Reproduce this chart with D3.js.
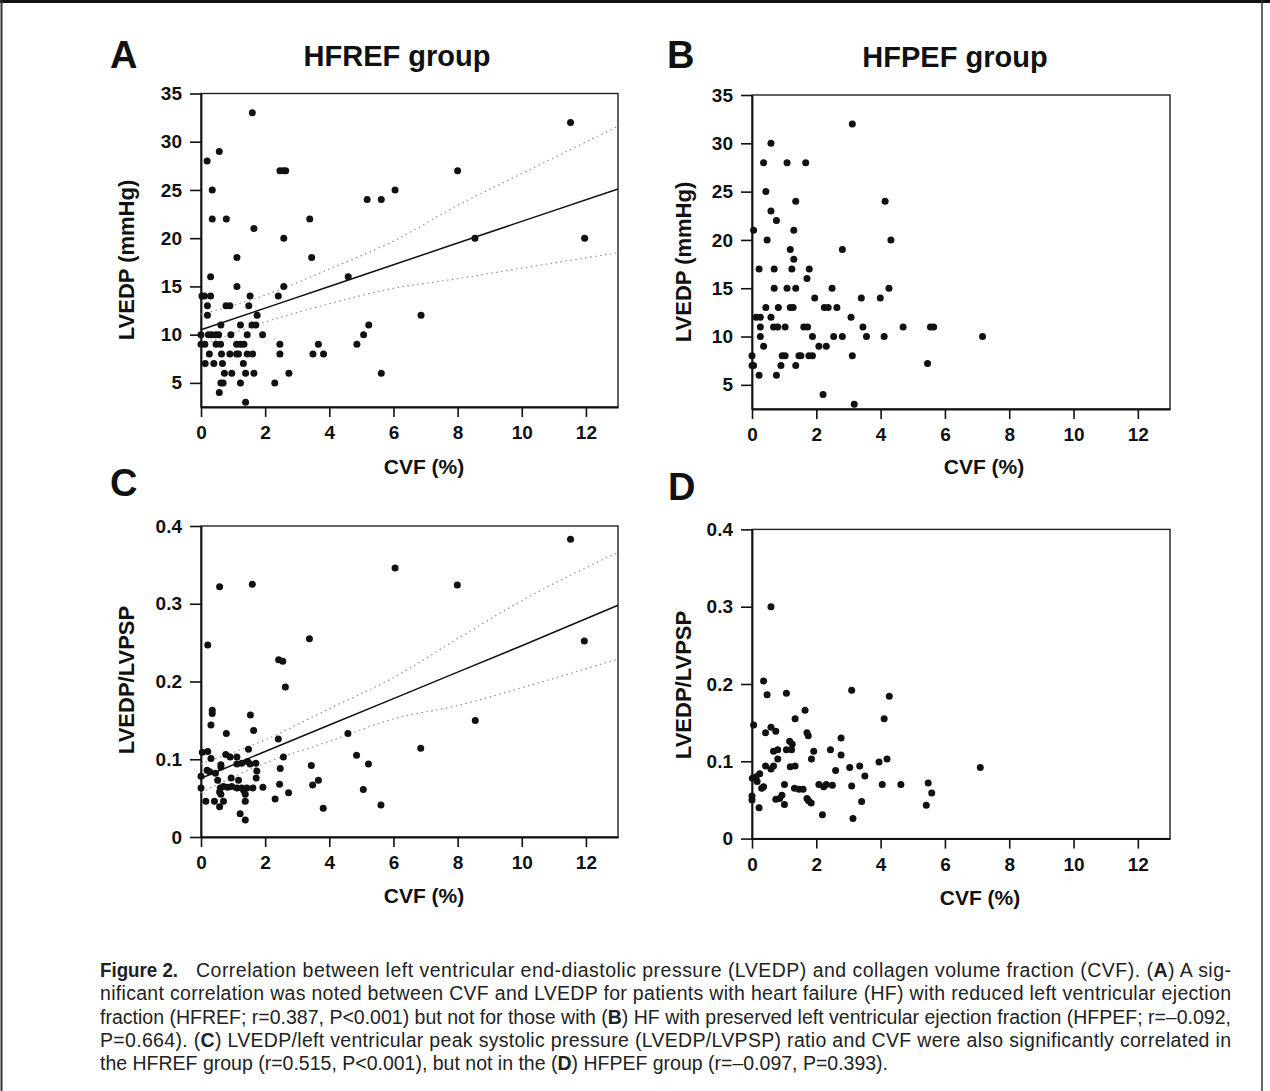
<!DOCTYPE html>
<html lang="en">
<head>
<meta charset="utf-8">
<script src="https://cdn.jsdelivr.net/npm/d3@7"></script>
<style>
    body { margin: 0; background: #fff; }
    svg { display: block; }
</style>
</head>
<body>
<script>
    // ---- data ----
    // panel A: HFREF, CVF (%) vs LVEDP (mmHg)
    let aCvf = [1.60,0.57,0.19, 2.46,2.56,2.64, 0.35,6.05, 5.18,5.62, 0.35,0.79,3.39, 1.65, 2.58, 1.12,3.45, 0.30,4.59, 1.12,2.58,
        0.03,0.11,0.30,1.53,2.41, 0.20,0.78,0.90,1.49, 0.20,1.75, 0.62,1.23,1.59,1.71,5.23,
        0,0.23,0.33,0.46,0.55,0.93,1.44,1.92,5.07, 0,0.12,0.47,0.61,1.11,1.23,1.34,2.46,3.66,4.86,
        0.26,0.64,0.90,1.11,1.17,1.44,1.61,2.46,3.49,3.82, 0.13,0.40,0.67,1.32, 0.73,0.96,1.39,1.65,2.74,5.62,
        0.62,0.69,1.23,2.30, 0.57, 1.39, 11.52,8.0,8.54,11.96,6.86];
    let aLvedp = [33,29,28, 27,27,27, 25,25, 24,24, 22,22,22, 21, 20, 18,18, 16,16, 15,15,
        14,14,14,14,14, 13,13,13,13, 12,12, 11,11,11,11,11,
        10,10,10,10,10,10,10,10,10, 9,9,9,9,9,9,9,9,9,9,
        8,8,8,8,8,8,8,8,8,8, 7,7,7,7, 6,6,6,6,6,6,
        5,5,5,5, 4, 3, 32,27,20,20,12];

    // panel B: HFPEF, CVF (%) vs LVEDP (mmHg)
    let bCvf = [3.12,0.59, 0.36,1.09,1.67, 0.43, 4.14,1.36, 0.59, 0.76, 0.05,1.30, 0.47,4.32, 1.19,2.81, 1.30,
        0.22,0.69,1.24,1.78, 1.71, 0.69,1.09,1.36,2.49,4.26, 1.95,3.40,3.99,
        0.43,0.82,1.19,1.28,2.25,2.37,2.64, 0.13,0.26,0.59,3.08,
        0.26,0.67,0.80,1.03,1.61,1.73,3.45,4.70,5.55,5.65, 0.26,1.88,2.54,2.81,3.56,4.11,7.17,
        0.36,2.08,2.31, 0,0.94,1.03,1.46,1.52,1.77,1.88,3.12, 0,0.05,0.90,1.36,5.46, 0.22,0.76, 2.21, 3.18];
    let bLvedp = [32,30, 28,28,28, 25, 24,24, 23, 22, 21,21, 20,20, 19,19, 18,
        17,17,17,17, 16, 15,15,15,15,15, 14,14,14,
        13,13,13,13,13,13,13, 12,12,12,12,
        11,11,11,11,11,11,11,11,11,11, 10,10,10,10,10,10,10,
        9,9,9, 8,8,8,8,8,8,8,8, 7,7,7,7,7.2, 6,6, 4, 3];

    // panel C: HFREF, CVF (%) vs LVEDP/LVPSP
    let cCvf = [1.60,0.58,6.05,0.21,3.38, 2.42,2.55,2.63, 0.35,0.35,0.31, 1.54,1.64,0.79,2.41,4.58,
        0.04,0.21,0.31,0.77,0.91,1.12,1.48,2.57,4.85, 0.62,0.62,1.12,1.27,1.45,1.53,1.71,1.74,5.22,3.44,
        0.19,0.27,0.45,0,2.47, 0.52,0.94,1.17,1.72,3.48,3.66,
        0,0.60,0.70,0.83,0.96,1.12,1.27,1.43,1.62,1.93,2.45,5.06, 0.58,0.62,1.33,1.38,2.73,
        0.15,0.42,0.70,0.58,1.38,2.31,5.61,3.81,1.22,1.38, 11.52,7.99,11.95,8.55,6.85];
    let cRatio = [0.325,0.322,0.346,0.247,0.255, 0.228,0.226,0.193, 0.163,0.159,0.144, 0.157,0.137,0.133,0.126,0.133,
        0.109,0.110,0.101,0.106,0.103,0.103,0.113,0.103,0.105, 0.093,0.090,0.094,0.095,0.097,0.094,0.095,0.085,0.094,0.092,
        0.086,0.084,0.082,0.078,0.088, 0.073,0.076,0.073,0.076,0.067,0.073,
        0.063,0.063,0.065,0.064,0.065,0.063,0.063,0.063,0.063,0.064,0.068,0.061, 0.058,0.055,0.060,0.055,0.057,
        0.046,0.046,0.046,0.039,0.046,0.049,0.041,0.037,0.030,0.022, 0.383,0.324,0.252,0.150,0.114];

    // panel D: HFPEF, CVF (%) vs LVEDP/LVPSP
    let dCvf = [0.59,0.36,0.47,1.07,3.10,4.27, 1.65,1.34,4.11, 0.05,0.42,0.59,0.74, 1.71,1.75,2.77, 1.17,1.25,1.23,
        0.67,0.80,1.07,1.92,2.44, 0.80,1.85,2.77,4.20,3.95, 0.42,0.67,0.59,1.19,1.34,2.60,3.04,3.35,7.10,
        0.24,0.01,0.16,0.13,3.51, 1.01,2.08,2.31,2.50,2.23,3.10,4.05,4.63,5.48, 0.30,0.36,1.32,1.46,1.59,5.59,
        0,0,0.93,0.86,0.74,1.01, 1.71,1.84,1.76,3.41,5.42, 0.22,2.19,3.14];
    let dRatio = [0.300,0.204,0.186,0.188,0.192,0.184, 0.166,0.155,0.155, 0.147,0.137,0.144,0.139, 0.137,0.133,0.130, 0.126,0.122,0.115,
        0.113,0.115,0.115,0.113,0.115, 0.103,0.103,0.108,0.103,0.099, 0.094,0.094,0.090,0.093,0.094,0.088,0.092,0.094,0.092,
        0.084,0.078,0.074,0.080,0.081, 0.070,0.070,0.070,0.069,0.067,0.068,0.070,0.070,0.072, 0.065,0.067,0.065,0.064,0.064,0.059,
        0.055,0.050,0.056,0.052,0.051,0.044, 0.052,0.046,0.049,0.048,0.043, 0.040,0.031,0.026];

    // fit lines and 95% bands (HFREF panels only), read at these CVF values
    let fitX = [0, 2, 4, 6, 8, 10, 13];
    let aFit = [10.5, 12.75, 15.0, 17.24, 19.5, 21.74, 25.1];
    let aUpper = [12.1, 14.1, 16.8, 19.7, 23.4, 26.7, 31.6];
    let aLower = [8.9, 11.3, 13.2, 14.8, 15.8, 16.9, 18.5];
    let cFit = [0.0755, 0.110, 0.144, 0.178, 0.212, 0.246, 0.298];
    let cUpper = [0.094, 0.125, 0.165, 0.205, 0.255, 0.304, 0.366];
    let cLower = [0.057, 0.095, 0.123, 0.152, 0.169, 0.192, 0.229];

    let xTicks = [0, 2, 4, 6, 8, 10, 12];
    let lvedpTicks = [5, 10, 15, 20, 25, 30, 35];
    let ratioTicks = [0, 0.1, 0.2, 0.3, 0.4];

    let w = 1270;
    let h = 1091;
    let font = "'Liberation Sans', Arial, Helvetica, sans-serif";

    let svg = d3.select("body").append("svg")
        .attr("width", w)
        .attr("height", h);

    // page frame
    svg.append("line").attr("x1", 0).attr("x2", w).attr("y1", 1.5).attr("y2", 1.5)
        .attr("stroke", "#111").attr("stroke-width", 3);
    svg.append("line").attr("x1", 1.5).attr("x2", 1.5).attr("y1", 0).attr("y2", h)
        .attr("stroke", "#333").attr("stroke-width", 2);
    svg.append("line").attr("x1", 1262).attr("x2", 1262).attr("y1", 0).attr("y2", h)
        .attr("stroke", "#333").attr("stroke-width", 1.5);

    let panels = [
        { letter: "A", lx: 110, ly: 68, title: "HFREF group", tx: 397, ty: 66,
          left: 201, right: 618, top: 93.5, bottom: 407, yDomain: [2.5, 35],
          xs: aCvf, ys: aLvedp, yTicks: lvedpTicks, yFmt: d3.format("d"),
          yLabel: "LVEDP (mmHg)", ylx: 126, yly: 260, xlx: 424, xly: 474,
          fit: aFit, upper: aUpper, lower: aLower },
        { letter: "B", lx: 667, ly: 68, title: "HFPEF group", tx: 955, ty: 67,
          left: 752, right: 1170, top: 95, bottom: 409, yDomain: [2.5, 35],
          xs: bCvf, ys: bLvedp, yTicks: lvedpTicks, yFmt: d3.format("d"),
          yLabel: "LVEDP (mmHg)", ylx: 683, yly: 262, xlx: 984, xly: 474 },
        { letter: "C", lx: 110, ly: 496,
          left: 201, right: 618, top: 526, bottom: 837, yDomain: [0, 0.4],
          xs: cCvf, ys: cRatio, yTicks: ratioTicks, yFmt: function(d) { return d === 0 ? "0" : d3.format(".1f")(d); },
          yLabel: "LVEDP/LVPSP", ylx: 126, yly: 680, xlx: 424, xly: 903,
          fit: cFit, upper: cUpper, lower: cLower },
        { letter: "D", lx: 668, ly: 500,
          left: 752, right: 1170, top: 529.4, bottom: 838.6, yDomain: [0, 0.4],
          xs: dCvf, ys: dRatio, yTicks: ratioTicks, yFmt: function(d) { return d === 0 ? "0" : d3.format(".1f")(d); },
          yLabel: "LVEDP/LVPSP", ylx: 683, yly: 685, xlx: 980, xly: 905 }
    ];

    panels.forEach(function(p) {
        let x = d3.scaleLinear().domain([0, 13]).range([p.left, p.right]);
        let y = d3.scaleLinear().domain(p.yDomain).range([p.bottom, p.top]);
        let g = svg.append("g");

        // panel letter and title
        g.append("text")
            .attr("x", p.lx).attr("y", p.ly)
            .attr("font-family", font).attr("font-size", 38).attr("font-weight", "bold")
            .attr("fill", "#111")
            .text(p.letter);
        if (p.title) {
            g.append("text")
                .attr("x", p.tx).attr("y", p.ty)
                .attr("text-anchor", "middle")
                .attr("font-family", font).attr("font-size", 29).attr("font-weight", "bold")
                .attr("fill", "#111")
                .text(p.title);
        }

        // box
        g.append("rect")
            .attr("x", p.left).attr("y", p.top)
            .attr("width", p.right - p.left).attr("height", p.bottom - p.top)
            .attr("fill", "none").attr("stroke", "#222").attr("stroke-width", 1.4);

        // axes
        let xAxis = g.append("g")
            .attr("transform", "translate(0," + p.bottom + ")")
            .call(d3.axisBottom(x).tickValues(xTicks).tickSize(10).tickSizeOuter(0).tickPadding(9).tickFormat(d3.format("d")));
        let yAxis = g.append("g")
            .attr("transform", "translate(" + p.left + ",0)")
            .call(d3.axisLeft(y).tickValues(p.yTicks).tickSize(11).tickSizeOuter(0).tickPadding(8).tickFormat(p.yFmt));
        [xAxis, yAxis].forEach(function(a) {
            a.select(".domain").attr("stroke", "#111").attr("stroke-width", 1.8);
            a.selectAll(".tick line").attr("stroke", "#111").attr("stroke-width", 1.6);
            a.selectAll(".tick text")
                .attr("font-family", font).attr("font-size", 19).attr("font-weight", "bold")
                .attr("fill", "#111");
        });

        // axis titles
        g.append("text")
            .attr("x", p.xlx).attr("y", p.xly)
            .attr("text-anchor", "middle")
            .attr("font-family", font).attr("font-size", 21).attr("font-weight", "bold")
            .attr("fill", "#111")
            .text("CVF (%)");
        g.append("text")
            .attr("transform", "translate(" + p.ylx + "," + p.yly + ") rotate(-90)")
            .attr("text-anchor", "middle")
            .attr("dominant-baseline", "central")
            .attr("font-family", font).attr("font-size", 22).attr("font-weight", "bold")
            .attr("fill", "#111")
            .text(p.yLabel);

        // fit line and confidence band
        if (p.fit) {
            let band = d3.line()
                .x(function(d) { return x(d[0]); })
                .y(function(d) { return y(d[1]); })
                .curve(d3.curveMonotoneX);
            [p.upper, p.lower].forEach(function(vals) {
                g.append("path")
                    .datum(fitX.map(function(v, i) { return [v, vals[i]]; }))
                    .attr("d", band)
                    .attr("fill", "none")
                    .attr("stroke", "#888")
                    .attr("stroke-width", 1.1)
                    .attr("stroke-dasharray", "1.5,3.5");
            });
            g.append("path")
                .datum(fitX.map(function(v, i) { return [v, p.fit[i]]; }))
                .attr("d", d3.line()
                    .x(function(d) { return x(d[0]); })
                    .y(function(d) { return y(d[1]); }))
                .attr("fill", "none")
                .attr("stroke", "#111")
                .attr("stroke-width", 1.5);
        }

        // points
        g.selectAll("circle")
            .data(p.xs.map(function(v, i) { return [v, p.ys[i]]; }))
            .join("circle")
            .attr("cx", function(d) { return x(d[0]); })
            .attr("cy", function(d) { return y(d[1]); })
            .attr("r", 3.5)
            .attr("fill", "#111");
    });

    // caption
    let capSize = 19.5;
    svg.append("text")
        .attr("x", 100).attr("y", 977)
        .attr("font-family", font).attr("font-size", 20).attr("font-weight", "bold")
        .attr("fill", "#222")
        .attr("textLength", 78).attr("lengthAdjust", "spacingAndGlyphs")
        .text("Figure 2.");
    let capLines = [
        [["Correlation between left ventricular end-diastolic pressure (LVEDP) and collagen volume fraction (CVF). (", ""], ["A", "b"], [") A sig-", ""]],
        [["nificant correlation was noted between CVF and LVEDP for patients with heart failure (HF) with reduced left ventricular ejection", ""]],
        [["fraction (HFREF; r=0.387, P<0.001) but not for those with (", ""], ["B", "b"], [") HF with preserved left ventricular ejection fraction (HFPEF; r=\u20130.092,", ""]],
        [["P=0.664). (", ""], ["C", "b"], [") LVEDP/left ventricular peak systolic pressure (LVEDP/LVPSP) ratio and CVF were also significantly correlated in", ""]],
        [["the HFREF group (r=0.515, P<0.001), but not in the (", ""], ["D", "b"], [") HFPEF group (r=\u20130.097, P=0.393).", ""]]
    ];
    capLines.forEach(function(parts, i) {
        let x0 = i === 0 ? 196 : 100;
        let t = svg.append("text")
            .attr("x", x0)
            .attr("y", 977 + i * 23.3)
            .attr("font-family", font)
            .attr("font-size", capSize)
            .attr("fill", "#222");
        if (i < 4) {
            t.attr("textLength", 1231 - x0).attr("lengthAdjust", "spacing");
        }
        parts.forEach(function(part) {
            let s = t.append("tspan").text(part[0]);
            if (part[1] === "b") {
                s.attr("font-weight", "bold");
            }
        });
    });
</script>
</body>
</html>
